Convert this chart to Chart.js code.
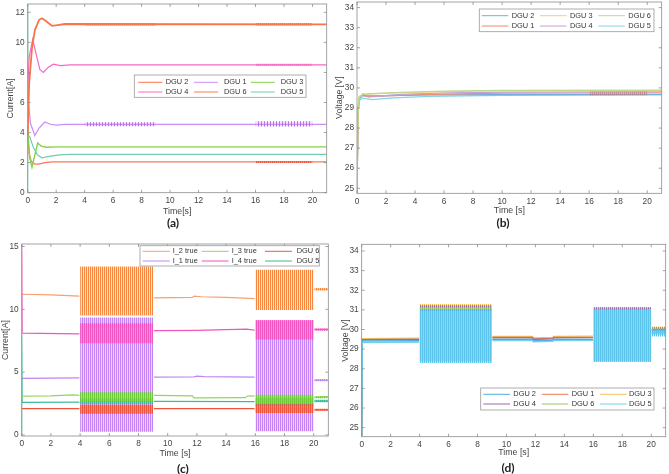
<!DOCTYPE html>
<html>
<head>
<meta charset="utf-8">
<script src="https://cdn.jsdelivr.net/npm/chart.js@4.4.1/dist/chart.umd.min.js"></script>
<style>
  body { margin: 0; background: #fff; width: 669px; height: 474px; overflow: hidden; position: relative; }
  canvas { position: absolute; left: 0; top: 0; }
  .sub { position: absolute; font: 700 12px Lato, sans-serif; color: #222; transform: translate(-50%, -50%); }
</style>
</head>
<body>
<canvas id="chartA" width="669" height="474"></canvas>
<canvas id="chartB" width="669" height="474"></canvas>
<canvas id="chartC" width="669" height="474"></canvas>
<canvas id="chartD" width="669" height="474"></canvas>
<div class="sub" style="left:173px;top:222px">(a)</div>
<div class="sub" style="left:503px;top:222px">(b)</div>
<div class="sub" style="left:183px;top:468px">(c)</div>
<div class="sub" style="left:508px;top:467px">(d)</div>
<script>
// ---- tick labels ----
const xTicks = [0, 2, 4, 6, 8, 10, 12, 14, 16, 18, 20];
const yTicksA = [0, 2, 4, 6, 8, 10, 12];
const yTicksB = [25, 26, 27, 28, 29, 30, 31, 32, 33, 34];
const yTicksC = [0, 5, 10, 15];
const yTicksD = [25, 26, 27, 28, 29, 30, 31, 32, 33, 34];

// ---- legends (row by row, 3 columns) ----
const legendA = ['DGU 2', 'DGU 1', 'DGU 3', 'DGU 4', 'DGU 6', 'DGU 5'];
const legendB = ['DGU 2', 'DGU 3', 'DGU 6', 'DGU 1', 'DGU 4', 'DGU 5'];
const legendC = ['I_2 true', 'I_3 true', 'DGU 6', 'I_1 true', 'I_4 true', 'DGU 5'];
const legendD = ['DGU 2', 'DGU 1', 'DGU 3', 'DGU 4', 'DGU 6', 'DGU 5'];

// time windows where the oscillations happen
const windowsA = [[4, 9], [16, 20]];
const windowsB = [[4, 9], [16, 20]];
const windowsC = [[4, 9], [16, 20], [20.05, 21]];
const windowsD = [[4, 9], [16, 20], [20.03, 21]];

// ---- (a) currents, [t, I] ----
const aDgu2 = [[0, 3.8], [0.1, 7.2], [0.3, 9.6], [0.5, 10.8], [0.8, 11.5], [1.0, 11.6], [1.3, 11.4], [1.7, 11.1], [2.1, 11.15], [2.6, 11.22], [21, 11.2]];
const aDgu4 = [[0, 6.8], [0.1, 9.0], [0.35, 10.2], [0.6, 9.2], [0.85, 8.2], [1.1, 8.0], [1.45, 8.35], [1.8, 8.55], [2.3, 8.45], [3, 8.5], [21, 8.5]];
const aDgu1 = [[0, 6.5], [0.2, 4.6], [0.5, 3.8], [0.8, 4.3], [1.2, 4.7], [1.6, 4.55], [2.0, 4.5], [2.6, 4.55], [21, 4.55]];
const aDgu3 = [[0, 4.0], [0.15, 2.3], [0.3, 1.7], [0.45, 2.3], [0.7, 3.3], [0.95, 3.1], [1.3, 3.02], [2, 3.05], [21, 3.05]];
const aDgu5 = [[0, 0], [0, 12.8], [0.03, 3.85], [0.15, 3.7], [0.4, 3.0], [0.7, 2.5], [1.0, 2.32], [1.5, 2.42], [2.2, 2.52], [3, 2.55], [21, 2.55]];
const aDgu6 = [[0, 4.0], [0.1, 2.6], [0.25, 2.1], [0.5, 1.9], [0.75, 1.9], [1.2, 2.0], [1.7, 2.05], [21, 2.05]];
// oscillation ranges [low, high] per window
const aDgu2Range = [[11.12, 11.28], [11.12, 11.28]];
const aDgu1Range = [[4.42, 4.68], [4.4, 4.76]];
const aDgu4Range = [null, [8.45, 8.57]];
const aDgu6Range = [null, [1.98, 2.1]];

// ---- (b) voltages, [t, V] ----
const bDgu2 = [[0, 24.8], [0.08, 28.8], [0.15, 29.45], [0.35, 29.62], [0.8, 29.6], [2, 29.62], [5, 29.65], [10, 29.67], [21, 29.68]];
const bDgu1 = [[0, 24.8], [0.08, 28.9], [0.15, 29.5], [0.35, 29.65], [0.8, 29.55], [2, 29.6], [5, 29.68], [10, 29.74], [21, 29.76]];
const bDgu3 = [[0, 24.8], [0.08, 29.0], [0.15, 29.55], [0.4, 29.68], [1, 29.7], [3, 29.76], [6, 29.82], [10, 29.86], [21, 29.87]];
const bDgu4 = [[0, 24.8], [0.08, 28.9], [0.15, 29.5], [0.4, 29.7], [0.8, 29.62], [1.3, 29.58], [3, 29.68], [6, 29.75], [10, 29.79], [21, 29.81]];
const bDgu6 = [[0, 24.8], [0.08, 29.0], [0.15, 29.55], [0.4, 29.68], [1, 29.72], [3, 29.78], [6, 29.84], [10, 29.88], [21, 29.89]];
const bDgu5 = [[0, 24.8], [0.08, 28.7], [0.15, 29.35], [0.35, 29.5], [1, 29.42], [2.5, 29.5], [5, 29.58], [10, 29.63], [21, 29.65]];
const bDgu1Range = [null, [29.64, 29.86]];

// ---- (c) currents, [t, I] ----
const cI2 = [[0, 11.2], [2, 11.15], [3.95, 11.05], [4, null], [9, null], [9.05, 10.92], [11.7, 10.95], [11.8, 11.05], [12.3, 11.0], [14, 10.95], [15.95, 10.85], [16, null], [20, null], [20.05, 11.6], [21, 11.6]];
const cI4 = [[0, 15.3], [0.03, 8.1], [3.95, 8.05], [4, null], [9, null], [9.05, 8.3], [12, 8.33], [15.4, 8.42], [15.95, 8.35], [16, null], [20, null], [20.05, 8.4], [21, 8.4]];
const cI1 = [[0, 4.5], [3.95, 4.55], [4, null], [9, null], [9.05, 4.6], [11.8, 4.62], [12, 4.68], [12.5, 4.65], [15.95, 4.6], [16, null], [20, null], [20.05, 4.35], [21, 4.35]];
const cI3 = [[0, 3.1], [2, 3.12], [3.5, 3.2], [3.95, 3.15], [4, null], [9, null], [9.05, 3.15], [11.7, 3.12], [11.8, 2.95], [15.3, 2.97], [15.5, 3.12], [15.95, 3.1], [16, null], [20, null], [20.05, 3.0], [21, 3.05]];
const cDgu5 = [[0, 0], [0, 8], [0.03, 2.6], [3.95, 2.62], [4, null], [9, null], [9.05, 2.68], [15.95, 2.65], [16, null], [20, null], [20.05, 2.7], [21, 2.7]];
const cDgu6 = [[0, 2.1], [3.95, 2.1], [4, null], [9, null], [9.05, 2.1], [15.95, 2.1], [16, null], [20, null], [20.05, 2.0], [21, 2.0]];
const cI2Range = [[9.5, 13.4], [9.95, 13.15], [11.5, 11.7]];
const cI4Range = [[7.3, 8.9], [7.6, 9.15], [8.3, 8.48]];
const cI1Range = [[0.25, 9.35], [0.3, 9.05], [4.27, 4.45]];
const cI3Range = [[2.7, 3.4], [2.5, 3.2], [2.93, 3.08]];
const cDgu5Range = [[2.45, 2.9], [2.3, 2.95], [2.6, 2.8]];
const cDgu6Range = [[1.7, 2.4], [1.75, 2.45], [1.93, 2.08]];

// ---- (d) voltages, [t, V] ----
const dDgu2 = [[0, 24.6], [0.04, 29.42], [3.97, 29.44], [4, null], [9, null], [9.03, 29.5], [11.8, 29.5], [11.85, 29.43], [13.2, 29.45], [13.25, 29.5], [15.97, 29.5], [16, null], [20, null], [20.03, 29.85], [21, 29.88]];
const dDgu1 = [[0, 24.6], [0.04, 29.48], [3.97, 29.5], [4, null], [9, null], [9.03, 29.6], [11.8, 29.6], [11.85, 29.52], [13.2, 29.55], [13.25, 29.6], [15.97, 29.6], [16, null], [20, null], [20.03, 29.95], [21, 29.98]];
const dDgu3 = [[0, 24.6], [0.04, 29.54], [3.97, 29.56], [4, null], [9, null], [9.03, 29.65], [11.8, 29.65], [11.85, 29.58], [13.2, 29.6], [13.25, 29.65], [15.97, 29.66], [16, null], [20, null], [20.03, 30.0], [21, 30.02]];
const dDgu4 = [[0, 24.6], [0.04, 29.48], [3.97, 29.5], [4, null], [9, null], [9.03, 29.57], [11.8, 29.57], [11.85, 29.5], [13.2, 29.52], [13.25, 29.57], [15.97, 29.58], [16, null], [20, null], [20.03, 29.98], [21, 30.0]];
const dDgu6 = [[0, 24.6], [0.04, 29.36], [3.97, 29.38], [4, null], [9, null], [9.03, 29.47], [11.8, 29.47], [11.85, 29.4], [13.2, 29.42], [13.25, 29.47], [15.97, 29.47], [16, null], [20, null], [20.03, 29.85], [21, 29.86]];
const dDgu5 = [[0, 24.5], [0.03, 29.33], [3.97, 29.35], [4, null], [9, null], [9.03, 29.43], [11.8, 29.43], [11.85, 29.37], [13.2, 29.39], [13.25, 29.43], [15.97, 29.44], [16, null], [20, null], [20.03, 29.8], [21, 29.82]];
const dDgu3Range = [[28.45, 31.3], [28.45, 31.15], [29.85, 30.15]];
const dDgu1Range = [[28.4, 31.25], [28.4, 31.12], [29.8, 30.1]];
const dDgu4Range = [[28.4, 31.2], [28.4, 31.12], [29.85, 30.1]];
const dDgu6Range = [[28.35, 31.12], [28.38, 31.05], [29.7, 30.05]];
const dDgu2Range = [[28.3, 31.05], [28.35, 31.05], [29.72, 30.0]];
const dDgu5Range = [[28.3, 30.95], [28.35, 31.0], [29.65, 29.95]];

const FONT = '"Liberation Sans", Arial, sans-serif';
const TEXT = '#444';

function stripes(ctx, color, gap, period) {
  const c = document.createElement('canvas');
  c.width = period; c.height = 4;
  const g = c.getContext('2d');
  if (gap) { g.fillStyle = gap; g.fillRect(0, 0, period, 4); }
  g.fillStyle = color; g.fillRect(0, 0, 1, 4);
  return ctx.createPattern(c, 'repeat');
}

const boxPlugin = {
  id: 'axisBox',
  afterDraw(chart) {
    const { ctx, chartArea: a, scales: { x, y } } = chart;
    ctx.save();
    ctx.strokeStyle = '#8c8c8c';
    ctx.lineWidth = 0.8;
    ctx.strokeRect(a.left, a.top, a.right - a.left, a.bottom - a.top);
    ctx.beginPath();
    x.ticks.forEach(t => {
      const px = x.getPixelForValue(t.value);
      ctx.moveTo(px, a.bottom); ctx.lineTo(px, a.bottom - 3);
      ctx.moveTo(px, a.top); ctx.lineTo(px, a.top + 3);
    });
    y.ticks.forEach(t => {
      const py = y.getPixelForValue(t.value);
      ctx.moveTo(a.left, py); ctx.lineTo(a.left + 3, py);
      ctx.moveTo(a.right, py); ctx.lineTo(a.right - 3, py);
    });
    ctx.stroke();
    ctx.restore();
  }
};

const legendPlugin = {
  id: 'boxLegend',
  afterDraw(chart, args, o) {
    if (!o.items) return;
    const ctx = chart.ctx;
    ctx.save();
    ctx.fillStyle = '#fff';
    ctx.fillRect(o.x, o.y, o.w, o.h);
    ctx.strokeStyle = '#9a9a9a';
    ctx.lineWidth = 0.8;
    ctx.strokeRect(o.x, o.y, o.w, o.h);
    ctx.font = '7.4px ' + FONT;
    ctx.textBaseline = 'middle';
    o.items.forEach((it, i) => {
      const c = i % 3, r = Math.floor(i / 3);
      const ly = o.y + o.rows[r];
      ctx.strokeStyle = it.color;
      ctx.lineWidth = 1;
      ctx.beginPath();
      ctx.moveTo(o.x + o.lines[c], ly);
      ctx.lineTo(o.x + o.lines[c] + o.len, ly);
      ctx.stroke();
      ctx.fillStyle = '#333';
      ctx.fillText(it.label, o.x + o.texts[c], ly);
    });
    ctx.restore();
  }
};

function axis(min, max, ticks, title, size, horizontal) {
  return {
    type: 'linear', min: min, max: max,
    afterBuildTicks: s => { s.ticks = ticks.map(v => ({ value: v })); },
    afterFit: s => {
      if (horizontal) s.height = size; else s.width = size;
      s.paddingLeft = 0; s.paddingRight = 0; s.paddingTop = 0; s.paddingBottom = 0;
    },
    grid: { display: false, drawTicks: false },
    border: { display: false },
    ticks: { color: TEXT, font: { family: FONT, size: 8.3 }, padding: 3, autoSkip: false, maxRotation: 0 },
    title: { display: true, text: title, color: TEXT, font: { family: FONT, size: 8.8 }, padding: 0 }
  };
}

function panel(id, p) {
  const ctx = document.getElementById(id).getContext('2d');
  const sets = [];
  p.series.forEach(s => {
    sets.push({ data: s.data, borderColor: s.color, borderWidth: s.width || 1.2, pointRadius: 0, fill: false, tension: 0 });
    (s.ranges || []).forEach((r, k) => {
      if (!r) return;
      const w = p.windows[k];
      sets.push({
        data: [[w[0], r[1]], [w[1], r[1]]],
        fill: { value: r[0] },
        backgroundColor: stripes(ctx, s.band || s.color, s.gap, s.period || 2),
        borderColor: 'rgba(0,0,0,0)', borderWidth: 1, pointRadius: 0
      });
    });
  });
  const legendItems = p.legend.map(name => ({ label: name, color: p.series.find(s => s.label === name).color }));
  return new Chart(ctx, {
    type: 'line',
    data: { datasets: sets.reverse() },
    options: {
      responsive: false, animation: false, events: [],
      layout: { padding: p.pad },
      scales: {
        x: axis(0, 21, xTicks, p.xTitle, p.xH, true),
        y: axis(p.yMin, p.yMax, p.yTicks, p.yTitle, p.yW, false)
      },
      plugins: {
        legend: { display: false }, tooltip: { enabled: false },
        boxLegend: Object.assign({ items: legendItems }, p.legendBox)
      }
    },
    plugins: [boxPlugin, legendPlugin]
  });
}

// (a)
panel('chartA', {
  windows: windowsA, yMin: 0, yMax: 12.55, yTicks: yTicksA,
  xTitle: 'Time[s]', yTitle: 'Current[A]', xH: 23.7, yW: 22.1,
  pad: { left: 5.6, top: 4, right: 342.3, bottom: 257.6 },
  legend: legendA,
  legendBox: { x: 134.3, y: 75, w: 171.7, h: 22.3, lines: [4, 59.7, 116.4], len: 24, texts: [31.4, 89.7, 146.4], rows: [7.3, 17] },
  series: [
    { label: 'DGU 5', data: aDgu5, color: '#6fcfae' },
    { label: 'DGU 6', data: aDgu6, color: '#f7785c', ranges: aDgu6Range, band: '#e8553a', gap: 'rgba(240,110,80,0.5)' },
    { label: 'DGU 3', data: aDgu3, color: '#86d24a', width: 1.4 },
    { label: 'DGU 1', data: aDgu1, color: '#cc8cf5', ranges: aDgu1Range, band: '#b070e8', gap: 'rgba(205,150,245,0.25)', period: 3 },
    { label: 'DGU 4', data: aDgu4, color: '#f768c8', ranges: aDgu4Range, gap: 'rgba(245,110,200,0.5)' },
    { label: 'DGU 2', data: aDgu2, color: '#fb7445', width: 1.8, ranges: aDgu2Range, gap: 'rgba(250,130,80,0.5)' }
  ]
});

// (b)
panel('chartB', {
  windows: windowsB, yMin: 24.75, yMax: 34.28, yTicks: yTicksB,
  xTitle: 'Time [s]', yTitle: 'Voltage [V]', xH: 22.1, yW: 22.4,
  pad: { left: 334.6, top: 2, right: 7.3, bottom: 258.6 },
  legend: legendB,
  legendBox: { x: 479.3, y: 9, w: 174.7, h: 22.7, lines: [2.4, 60.7, 119], len: 26.6, texts: [32.4, 90.7, 149], rows: [6.7, 17] },
  series: [
    { label: 'DGU 5', data: bDgu5, color: '#7fd6ee' },
    { label: 'DGU 2', data: bDgu2, color: '#6fb0e0' },
    { label: 'DGU 1', data: bDgu1, color: '#ef8a6a', ranges: bDgu1Range, band: 'rgba(180,110,110,0.55)', gap: 'rgba(200,150,150,0.3)' },
    { label: 'DGU 4', data: bDgu4, color: '#c9a0d8' },
    { label: 'DGU 3', data: bDgu3, color: '#f5cf7a' },
    { label: 'DGU 6', data: bDgu6, color: '#b8da8e' }
  ]
});

// (c)
panel('chartC', {
  windows: windowsC, yMin: -0.08, yMax: 15.2, yTicks: yTicksC,
  xTitle: 'Time [s]', yTitle: 'Current[A]', xH: 22.7, yW: 21.1,
  pad: { left: 0.6, top: 244, right: 340.7, bottom: 15.3 },
  legend: legendC,
  legendBox: { x: 140, y: 245.7, w: 179.3, h: 20.3, lines: [2.7, 61.7, 125], len: 27, texts: [32.7, 91.7, 156.7], rows: [5.6, 15.3] },
  series: [
    { label: 'I_1 true', data: cI1, color: '#c184f2', ranges: cI1Range, gap: 'rgba(210,170,248,0.5)' },
    { label: 'I_2 true', data: cI2, color: '#f7a070', ranges: cI2Range, band: '#f5863f', gap: 'rgba(248,185,145,0.4)' },
    { label: 'I_4 true', data: cI4, color: '#f055c0', ranges: cI4Range, gap: 'rgba(240,90,190,0.5)' },
    { label: 'DGU 5', data: cDgu5, color: '#3dbb98', ranges: cDgu5Range, gap: 'rgba(60,185,150,0.5)' },
    { label: 'I_3 true', data: cI3, color: '#8fd95a', ranges: cI3Range, band: '#6cc93a', gap: 'rgba(140,215,90,0.5)' },
    { label: 'DGU 6', data: cDgu6, color: '#f0553c', ranges: cDgu6Range, gap: 'rgba(240,80,58,0.55)' }
  ]
});

// (d)
panel('chartD', {
  windows: windowsD, yMin: 24.54, yMax: 34.34, yTicks: yTicksD,
  xTitle: 'Time [s]', yTitle: 'Voltage [V]', xH: 21.4, yW: 21.1,
  pad: { left: 340.6, top: 244.3, right: 3.3, bottom: 15.9 },
  legend: legendD,
  legendBox: { x: 480.7, y: 388, w: 173.3, h: 22, lines: [2.6, 61, 119.3], len: 26.7, texts: [32.6, 91, 148.3], rows: [6.3, 16] },
  series: [
    { label: 'DGU 3', data: dDgu3, color: '#f2c25a', ranges: dDgu3Range, gap: 'rgba(240,200,100,0.25)' },
    { label: 'DGU 1', data: dDgu1, color: '#e67855', ranges: dDgu1Range, gap: 'rgba(230,120,85,0.2)' },
    { label: 'DGU 4', data: dDgu4, color: '#9b6ca8', ranges: dDgu4Range, gap: 'rgba(155,108,168,0.2)' },
    { label: 'DGU 6', data: dDgu6, color: '#9dc864', ranges: dDgu6Range, gap: 'rgba(157,200,100,0.2)' },
    { label: 'DGU 2', data: dDgu2, color: '#4faee0', ranges: dDgu2Range, gap: 'rgba(120,190,230,0.3)' },
    { label: 'DGU 5', data: dDgu5, color: '#72d2f0', ranges: dDgu5Range, band: '#5cc4ea', gap: 'rgba(160,222,245,0.35)' }
  ]
});
</script>
</body>
</html>
